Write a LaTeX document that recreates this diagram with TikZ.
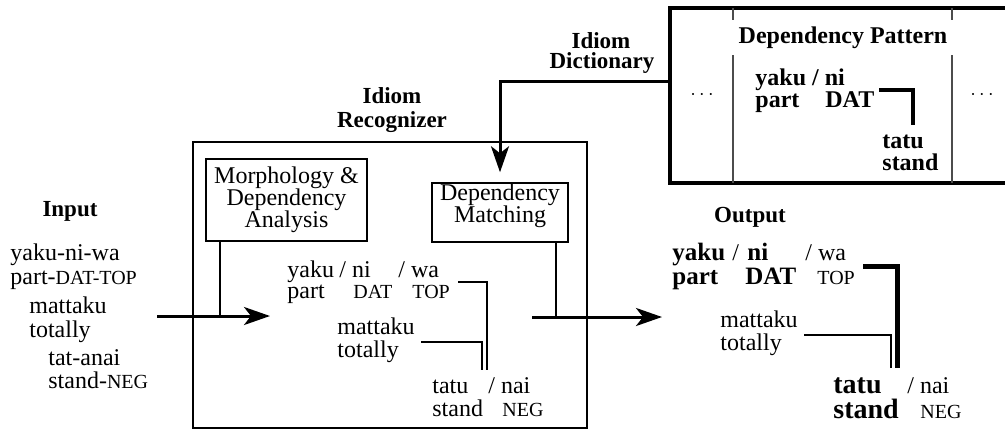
\documentclass[tikz,border=0pt]{standalone}
\usepackage{fontspec}
\setmainfont{Liberation Serif}
\usetikzlibrary{arrows.meta}
\tikzset{
  wd/.style={anchor=base west, inner sep=0pt, font=\fontsize{12}{12}\selectfont},
  sm/.style={anchor=base west, inner sep=0pt, font=\fontsize{10}{10}\selectfont}
}

\begin{document}
\begin{tikzpicture}[x=0.5pt, y=-0.5pt,
    hd/.style={anchor=base, inner sep=0pt, font=\bfseries\fontsize{11.5}{11}\selectfont},
    bd/.style={anchor=base west, inner sep=0pt, font=\bfseries\fontsize{12}{12}\selectfont},
    bo/.style={anchor=base west, inner sep=0pt, font=\bfseries\fontsize{12.5}{12}\selectfont},
    bt/.style={anchor=base west, inner sep=0pt, font=\bfseries\fontsize{14}{14}\selectfont},
    stage/.style={draw, line width=0.75pt, align=center, inner sep=0pt, font=\fontsize{12}{11}\selectfont},
    flow/.style={line width=1.5pt, -{Stealth[length=13pt, width=9pt, inset=3.5pt]}},
    tap/.style={line width=0.75pt},
    dep/.style={line width=0.9pt},
    deph/.style={line width=2.5pt},
    sep/.style={line width=0.6pt, black!70} ]
    \useasboundingbox (0,0) rectangle (1005,430);
    % input side
    \node at (70,216) [hd] (inp) {Input};
    \node at (10,260) [wd] (i1) {yaku-ni-wa};
    \node at (10,284) [wd] (i2) {part-{\fontsize{10}{10}\selectfont DAT-TOP}};
    \node at (29,313) [wd] (i3) {mattaku};
    \node at (29,337) [wd] (i4) {totally};
    \node at (48,365) [wd] (i5) {tat-anai};
    \node at (48,388) [wd] (i6) {stand-{\fontsize{10}{10}\selectfont NEG}};
    % recognizer
    \node at (392,103) [hd] (rc1) {Idiom};
    \node at (392,127) [hd] (rc2) {Recognizer};
    \node at (390,285) [draw, line width=1pt, inner sep=0pt, minimum width=197pt, minimum height=143pt] (rec) {};
    \node at (286.5,200) [stage, minimum width=80.5pt, minimum height=41pt] (MA) {Morphology \&\\Dependency\\Analysis};
    \node at (500,212.5) [stage, minimum width=68pt, minimum height=29.5pt,
      label={[align=center, inner sep=0pt, yshift=3.5pt, font=\fontsize{12}{11}\selectfont]center:Dependency\\Matching}] (DM) {};
    \coordinate (inS) at (157,316);
    \coordinate (inE) at (270,316);
    \coordinate (mj) at (220,316);
    \draw [flow] (inS) -- (inE);
    \draw [tap] (MA.south -| mj) -- (mj);
    \node at (287,277) [wd] (r1) {yaku};
    \node at (339,277) [wd] (r2) {/ ni};
    \node at (398,277) [wd] (r3) {/ wa};
    \node at (287,298) [wd] (r4) {part};
    \node at (353,298) [sm] (r5) {DAT};
    \node at (412,298) [sm] (r6) {TOP};
    \node at (337,334) [wd] (r7) {mattaku};
    \node at (337,357) [wd] (r8) {totally};
    \node at (432,393) [wd] (r9) {tatu};
    \node at (488,393) [wd] (r10) {/ nai};
    \node at (432,416) [wd] (r11) {stand};
    \node at (502,416) [sm] (r12) {NEG};
    \coordinate (ra) at (458,282);
    \coordinate (rb) at (487,370);
    \coordinate (rc) at (421,342);
    \coordinate (rd) at (482,370);
    \draw [dep] (ra) -| (rb);
    \draw [dep] (rc) -| (rd);
    \coordinate (outS) at (532,317);
    \coordinate (outE) at (662,317);
    \coordinate (dj) at (556,317);
    \draw [flow] (outS) -- (outE);
    \draw [tap] (DM.south -| dj) -- (dj);
    % dictionary
    \coordinate (dT) at (670,8);
    \coordinate (dB) at (670,183);
    \draw [line width=2pt] (1005,8) -- (dT) -- (dB) -- (1005,183);
    \draw [sep] (733,8) -- (733,20) (733,55) -- (733,183);
    \draw [sep] (952,8) -- (952,20) (952,55) -- (952,183);
    \node at (601,48) [hd] (id1) {Idiom};
    \node at (602,68) [hd] (id2) {Dictionary};
    \node at (843,43) [bd, anchor=base] (dp) {Dependency Pattern};
    \node at (702,95) [inner sep=0pt] (dl) {$\cdots$};
    \node at (982,95) [inner sep=0pt] (dr) {$\cdots$};
    \node at (755,85) [bd] (d1) {yaku / ni};
    \node at (755,107) [bd] (d2) {part};
    \node at (825,107) [bd] (d3) {DAT};
    \node at (882,148) [bd] (d4) {tatu};
    \node at (882,170) [bd] (d5) {stand};
    \coordinate (da) at (879,90);
    \coordinate (db) at (913,125);
    \draw [deph, line width=2.3pt] (da) -| (db);
    \coordinate (dk) at (500,81);
    \draw [flow, shorten >=5pt] (dT |- dk) -- (dk) -- (DM.north -| dk);
    % output side
    \node at (750,222) [hd] (out) {Output};
    \node at (672,260) [bo] (o1) {yaku};
    \node at (732,260) [wd] (o2) {/};
    \node at (747,260) [bo] (o3) {ni};
    \node at (805,260) [wd] (o4) {/ wa};
    \node at (672,284) [bo] (o5) {part};
    \node at (745,284) [bo] (o6) {DAT};
    \node at (817,284) [sm] (o7) {TOP};
    \node at (720,327) [wd] (o8) {mattaku};
    \node at (720,350) [wd] (o9) {totally};
    \node at (833,393) [bt] (o10) {tatu};
    \node at (907,393) [wd] (o11) {/ nai};
    \node at (833,418) [bt] (o12) {stand};
    \node at (920,418) [sm] (o13) {NEG};
    \coordinate (oa) at (863,266);
    \coordinate (ob) at (897,368);
    \coordinate (oc) at (804,335);
    \coordinate (od) at (891,368);
    \draw [deph] (oa) -| (ob);
    \draw [dep, line width=0.8pt] (oc) -| (od);
\end{tikzpicture}
\end{document}
